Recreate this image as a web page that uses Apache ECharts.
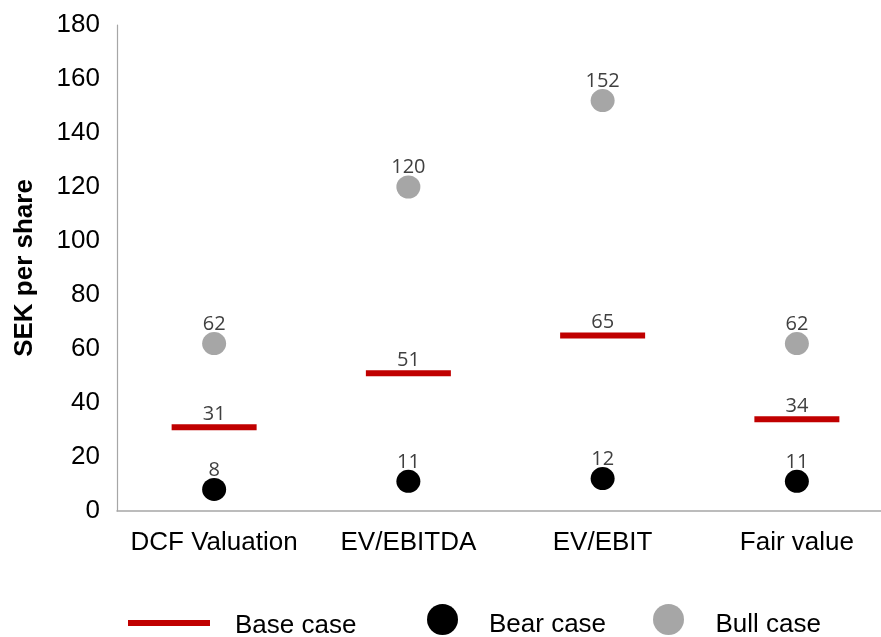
<!DOCTYPE html>
<html>
<head>
<meta charset="utf-8">
<script src="https://cdn.jsdelivr.net/npm/echarts@6/dist/echarts.min.js"></script>
<style>
  html, body { margin: 0; padding: 0; background: #fff; }
  #chart { width: 881px; height: 637px; }
</style>
</head>
<body>
<div id="chart"></div>
<script>
// Valuation ranges per method, SEK per share
const categories = ['DCF Valuation', 'EV/EBITDA', 'EV/EBIT', 'Fair value'];
const baseCase = [31, 51, 65, 34];
const bearCase = [8, 11, 12, 11];
const bullCase = [62, 120, 152, 62];
const yTicks = { min: 0, max: 180, interval: 20 };

// value labels sit snugly on top of each marker
function valueLabel(dy) {
  return {
    show: true,
    position: 'top',
    distance: 0,
    offset: [0, dy],
    fontFamily: 'Open Sans',
    fontSize: 20,
    color: '#404040'
  };
}
const axisFont = { color: '#000', fontFamily: 'Liberation Sans', fontSize: 26 };

// legend text sits slightly below the centre of its key
function legendText(left, top) {
  return Object.assign({}, axisFont, {
    rich: { t: Object.assign({ padding: [top, 0, 0, left] }, axisFont) }
  });
}

const chart = echarts.init(document.getElementById('chart'));
chart.setOption({
  animation: false,
  backgroundColor: '#ffffff',
  // plot area runs a little past the right edge of the canvas
  grid: { left: 117, width: 777, top: 25, bottom: 126, outerBoundsMode: 'none', containLabel: false },
  xAxis: {
    type: 'category',
    data: categories,
    boundaryGap: true,
    axisLine: { lineStyle: { color: '#a6a6a6', width: 1.5 } },
    axisTick: { show: false },
    axisLabel: Object.assign({ margin: 19, interval: 0 }, axisFont)
  },
  yAxis: {
    type: 'value',
    min: yTicks.min,
    max: yTicks.max,
    interval: yTicks.interval,
    name: 'SEK per share',
    nameLocation: 'middle',
    nameGap: 79,
    nameTextStyle: { color: '#000', fontFamily: 'Liberation Sans', fontSize: 26, fontWeight: 'bold' },
    axisLine: { show: true, lineStyle: { color: '#a6a6a6', width: 1.2 } },
    axisTick: { show: false },
    splitLine: { show: false },
    axisLabel: Object.assign({ margin: 17 }, axisFont)
  },
  legend: [
    {
      data: [{ name: 'Base case', icon: 'rect' }],
      left: 128, top: 613, padding: 0,
      itemWidth: 82, itemHeight: 6, itemGap: 0,
      formatter: '{t|{name}}',
      textStyle: legendText(20, 6)
    },
    {
      data: [{ name: 'Bear case', icon: 'circle' }],
      left: 427, top: 604, padding: 0,
      itemWidth: 33, itemHeight: 31, itemGap: 0,
      formatter: '{t|{name}}',
      textStyle: legendText(25, 10)
    },
    {
      data: [{ name: 'Bull case', icon: 'circle' }],
      left: 653, top: 604, padding: 0,
      itemWidth: 34, itemHeight: 31, itemGap: 0,
      formatter: '{t|{name}}',
      textStyle: legendText(25, 10)
    }
  ],
  series: [
    {
      name: 'Base case',
      type: 'scatter',
      data: baseCase,
      symbol: 'rect',
      symbolSize: [85, 6],
      itemStyle: { color: '#c00000', opacity: 1 },
      label: valueLabel(0)
    },
    {
      name: 'Bear case',
      type: 'scatter',
      data: bearCase,
      symbol: 'circle',
      symbolSize: [24, 23],
      itemStyle: { color: '#000000', opacity: 1 },
      label: valueLabel(2)
    },
    {
      name: 'Bull case',
      type: 'scatter',
      data: bullCase,
      symbol: 'circle',
      symbolSize: [24, 23],
      itemStyle: { color: '#a6a6a6', opacity: 1 },
      label: valueLabel(2)
    }
  ]
});
</script>
</body>
</html>
